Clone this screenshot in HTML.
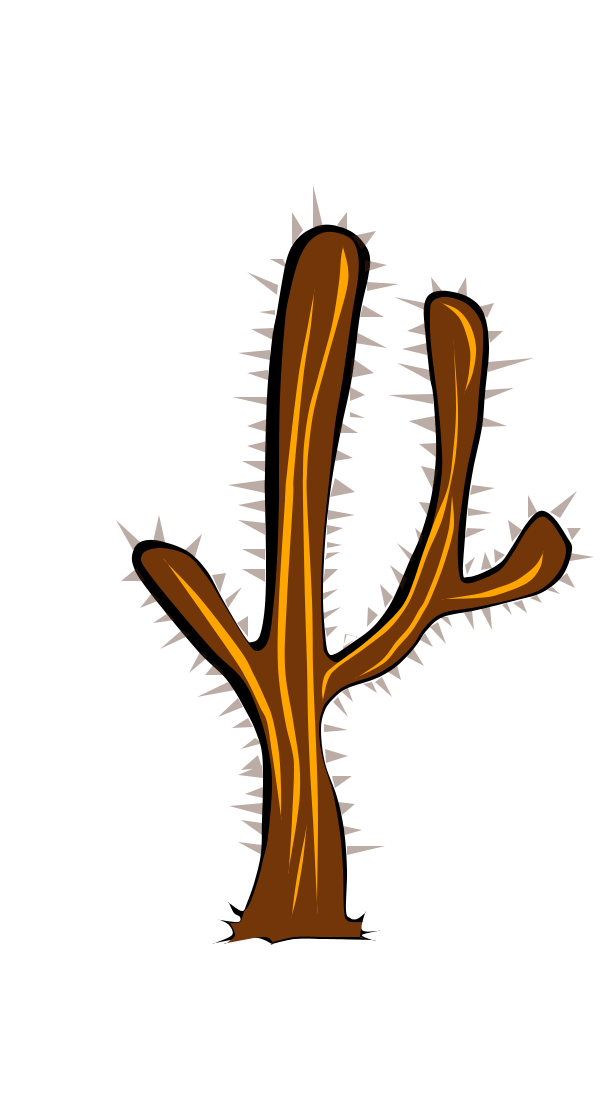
<!DOCTYPE html>
<html lang="en">
<head>
<meta charset="utf-8">
<title>Brown cactus illustration</title>
<style>
html,body{margin:0;padding:0;background:#fff;}
svg{display:block;}
</style>
</head>
<body>
<svg id="art" width="600" height="1100" viewBox="0 0 600 1100">
  <defs><clipPath id="outlineClip"><path id="clipShape"/></clipPath></defs>
  <path id="spikes" fill="#bcaca6"/>
  <path id="outline" fill="#000000"/>
  <path id="spikeShadows" fill="#20100a" clip-path="url(#outlineClip)"/>
  <path id="body" fill="#723609"/>
  <path id="hlA" fill="#ffa500"/>
  <path id="hlB" fill="#ffa500"/>
  <path id="hlC" fill="#ffa500"/>
  <path id="hlD" fill="#ffa500"/>
  <path id="hlE" fill="#ffa500"/>
  <path id="hlF" fill="#ffa500"/>
  <path id="hlG" fill="#ffa500"/>
  <path id="hlH" fill="#ffa500"/>
</svg>
<script>
var spikeList = [
[313,185,313,227,323,227],[292,212,292,245,303,230],[347,212,337,225,347,230],[376,231,352,236,362,250],
[270,259,283,259,287,268],[247,272,278,285,277,295],[259,312,275,310,275,315],[251,329,273,328,273,340],
[238,353,270,350,270,360],[247,373,268,370,268,380],[232,397,267,397,267,405],[247,426,267,419,267,432],
[247,446,267,441,267,453],[242,461,265,461,265,472],[228,485,265,480,265,493],[238,505,265,500,265,512],
[238,520,265,523,265,535],[242,549,265,549,265,560],[242,569,265,569,265,582],
[116,520,133,550,140,542],[159,515,153,542,165,542],[202,534,185,550,195,557],[121,581,137,568,145,581],
[140,608,152,593,160,600],[153,623,168,613,175,620],[160,649,182,630,190,635],[189,673,200,652,208,657],
[205,675,215,663,225,675],[197,697,228,682,235,690],[218,717,238,698,243,707],[232,728,248,718,253,727],
[241,749,255,738,263,743],[226,573,212,575,220,593],[242,587,225,600,228,608],[248,616,237,623,248,637],
[355,515,328,510,328,520],[343,528,327,525,327,535],[342,545,327,542,327,548],[340,552,327,553,325,560],
[338,569,325,569,323,583],[338,589,323,593,323,600],[341,607,323,613,323,620],[338,626,325,628,327,637],
[347,634,343,647,358,637],
[387,265,365,260,365,272],[399,284,367,282,367,291],[384,317,363,305,360,317],[387,348,358,333,355,343],
[374,373,352,358,350,378],[365,395,350,387,350,401],[365,418,350,412,350,417],[358,433,342,423,338,433],
[353,458,337,450,335,461],[355,492,335,478,330,497],
[431,277,433,293,443,292],[466,277,457,293,467,297],[494,303,478,307,487,318],[503,331,488,331,490,343],
[534,358,488,362,488,372],[514,388,485,390,484,400],[507,426,482,417,481,427],[495,488,472,485,470,495],
[492,513,468,508,468,516],[486,529,467,528,465,538],
[394,297,425,303,425,310],[407,331,425,323,425,335],[402,349,427,343,427,355],[397,363,430,370,432,382],
[388,395,433,394,433,404],[409,421,435,416,436,433],[419,444,437,443,437,458],[421,466,438,470,433,490],
[419,502,430,503,428,517],[415,528,423,535,420,545],[397,543,413,555,412,563],[390,565,407,578,402,590],
[380,584,393,597,385,608],[368,607,378,615,367,627],[345,634,357,637,343,650],
[475,557,465,565,467,575],[485,552,481,570,492,568],[494,549,495,563,505,555],[508,520,512,542,522,530],
[528,495,528,518,537,512],[577,491,550,512,560,518],[581,528,567,528,572,540],[594,557,570,553,570,561],
[575,588,567,573,558,580],[560,594,552,587,547,590],[542,603,537,595,530,598],[527,613,522,600,513,603],
[512,615,507,603,502,605],[492,630,490,607,481,609],[474,630,472,610,464,613],[452,627,448,617,440,617],
[446,644,438,622,430,627],[433,647,425,633,420,640],[424,666,413,648,407,657],[401,680,397,665,388,672],
[392,697,382,677,375,682],[377,693,372,682,363,684],[353,702,348,688,342,692],[348,717,338,697,333,702],
[348,730,324,724,324,732],
[348,756,325,749,326,763],[352,776,332,776,335,788],[355,804,338,802,342,815],[362,830,343,826,345,835],
[385,846,347,846,347,855],
[241,770,258,755,262,768],[238,775,262,765,263,778],[245,794,263,787,263,798],[229,806,263,803,263,815],
[241,820,262,823,262,835],[238,842,262,845,262,855]
];

var outlinePts = [
[332,225],[352,232],[365,245],[370,258],[368,278],[360,315],[352,377],[342,425],[333,473],[327,520],[324,560],[323,600],[325,632],[328,652],[335,654],
[352,643],[372,628],[388,608],[399,586],[409,562],[420,537],[430,503],[435,470],[436,437],[433,394],[430,377],[425,330],[424,307],[430,294],[447,291],[470,298],[484,314],[489,347],[485,393],[482,427],[473,470],[468,503],[465,537],[463,573],[468,577],[482,573],[500,563],
[510,550],[527,523],[540,511],[553,517],[567,537],[572,550],[563,575],[543,592],[517,600],[477,610],[443,617],[427,630],[415,647],[398,665],[377,678],[348,688],[335,697],[325,710],[321,730],[325,763],[337,797],[344,830],[347,870],[346,910],[350,918],[357,919],
[365,913,1],[362,930],[378,931,1],[362,935],[372,940,1],[322,939],[295,939],[272,944,1],[258,938],[238,939],[215,943,1],[232,935],[229,925],[220,920,1],[238,922],[240,917],[234,913],[229,903,1],[242,911],[247,903],[255,880],[261,853],[262,820],[263,787],[262,753],[256,732],[247,713],[227,680],[197,650],[148,590],[133,565],[134,549],[143,541],[160,541],[187,551],[207,571],[223,600],[245,637],[252,642],[260,635],[265,605],[266,560],[265,500],[265,473],[267,397],[272,340],[277,312],[282,282],[288,255],[298,238],[315,227]
];

var bodyPts = [
[338,233],[352,240],[358,255],[358,278],[352,315],[343,377],[335,425],[330,473],[325,520],[322,560],[321,600],[323,640],[325,653],[335,662],[348,658],[368,643],[391,623],[405,602],[416,578],[426,548],[436,510],[442,470],[441,437],[437,394],[431,345],[430,313],[433,301],[447,297],[467,304],[481,322],[483,347],[479,393],[476,427],[467,470],[462,503],[458,537],[459,573],[465,583],
[480,580],[500,570],[513,553],[527,530],[540,517],[550,521],[560,535],[566,550],[560,570],[543,588],[517,598],[477,607],[443,613],[425,627],[413,645],[396,662],[375,675],[347,685],[333,695],[323,708],[319,730],[323,760],[333,793],[340,833],[343,870],[344,910],[348,921],[362,922,1],[360,937,1],[322,937],[295,937],[273,942,1],[263,937],[227,943,1],[235,935],[230,923,1],[240,922],[244,912],[250,903],[258,880],[263,860],[268,837],[272,787],[269,753],[260,717],[243,680],[210,647],[150,575],[142,555],[160,548],[187,555],[207,577],[223,603],[246,640],[257,651],[268,641],[273,610],[277,560],[279,500],[279,473],[280,397],[285,322],[290,292],[298,262],[308,243],[322,233]
];

var hlAPts = [[314,293,1],[311,325],[303,380],[294,473],[293,500],[287,600],[285,667],[293,720],[299,760],[300,790],[297,820],[289,868,1],[292,820],[294,770],[292,750],[285,720],[278,667],[279,600],[285,500],[287,473],[298,380],[308,325]];
var hlBPts = [[343,247,1],[348,268],[347,288],[337,325],[325,368],[314,410],[309,445],[307,473],[307,500],[312,600],[313,667],[315,720],[317,770],[318,820],[317,903,1],[313,820],[310,770],[308,720],[307,667],[305,600],[303,500],[303,473],[304,445],[309,410],[318,377],[332,325],[339,282],[341,258]];
var hlCPts = [[307,823,1],[303,860],[297,895],[292,915,1],[295,890],[300,860],[305,835]];
var hlDPts = [[167,563,1],[199,597],[240,650],[254,675],[267,703],[273,720],[279,753],[281,787],[281,816,1],[277,787],[272,753],[267,722],[260,707],[247,680],[233,657],[192,598]];
var hlEPts = [[454,347,1],[458,410],[456,453],[450,487],[442,520],[428,553],[419,578],[408,604],[390,628],[365,648],[337,668],[328,680],[323,700,1],[322,690],[325,675],[335,665],[362,645],[385,625],[403,605],[413,583],[423,553],[435,520],[448,487],[453,453],[456,410]];
var hlFPts = [[452,495,1],[454,520],[452,537],[442,570],[430,600],[423,613],[412,631],[398,647],[384,663],[358,677,1],[382,660],[396,642],[409,627],[419,610],[425,600],[437,570],[447,537],[450,520]];
var hlGPts = [[442,303,1],[458,310],[470,325],[476,347],[473,372],[465,392,1],[469,372],[470,350],[463,325],[455,313]];
var hlHPts = [[445,599,1],[477,598],[497,595],[527,583],[540,568],[543,553,1],[535,566],[517,580],[497,588],[477,594]];

function expand(pts){
  var out = [];
  pts.forEach(function(p){
    out.push([p[0],p[1]]);
    if(p[2]){ out.push([p[0],p[1]]); }
  });
  return out;
}
function smooth(raw){
  var pts = expand(raw), n = pts.length;
  var d = 'M' + pts[0][0] + ' ' + pts[0][1];
  for(var i = 0; i < n; i++){
    var p0 = pts[(i-1+n)%n], p1 = pts[i], p2 = pts[(i+1)%n], p3 = pts[(i+2)%n];
    var c1x = p1[0] + (p2[0]-p0[0])/6, c1y = p1[1] + (p2[1]-p0[1])/6;
    var c2x = p2[0] - (p3[0]-p1[0])/6, c2y = p2[1] - (p3[1]-p1[1])/6;
    d += 'C' + c1x.toFixed(1) + ' ' + c1y.toFixed(1) + ' ' + c2x.toFixed(1) + ' ' + c2y.toFixed(1) + ' ' + p2[0] + ' ' + p2[1];
  }
  return d + 'Z';
}
var spikeD = spikeList.map(function(s){
  return 'M' + s[0] + ' ' + s[1] + 'L' + s[2] + ' ' + s[3] + 'L' + s[4] + ' ' + s[5] + 'Z';
}).join('');
document.getElementById('spikes').setAttribute('d', spikeD);
document.getElementById('spikeShadows').setAttribute('d', spikeD);
document.getElementById('outline').setAttribute('d', smooth(outlinePts));
document.getElementById('clipShape').setAttribute('d', smooth(outlinePts));
document.getElementById('body').setAttribute('d', smooth(bodyPts));
document.getElementById('hlA').setAttribute('d', smooth(hlAPts));
document.getElementById('hlB').setAttribute('d', smooth(hlBPts));
document.getElementById('hlC').setAttribute('d', smooth(hlCPts));
document.getElementById('hlD').setAttribute('d', smooth(hlDPts));
document.getElementById('hlE').setAttribute('d', smooth(hlEPts));
document.getElementById('hlF').setAttribute('d', smooth(hlFPts));
document.getElementById('hlG').setAttribute('d', smooth(hlGPts));
document.getElementById('hlH').setAttribute('d', smooth(hlHPts));
</script>
</body>
</html>
